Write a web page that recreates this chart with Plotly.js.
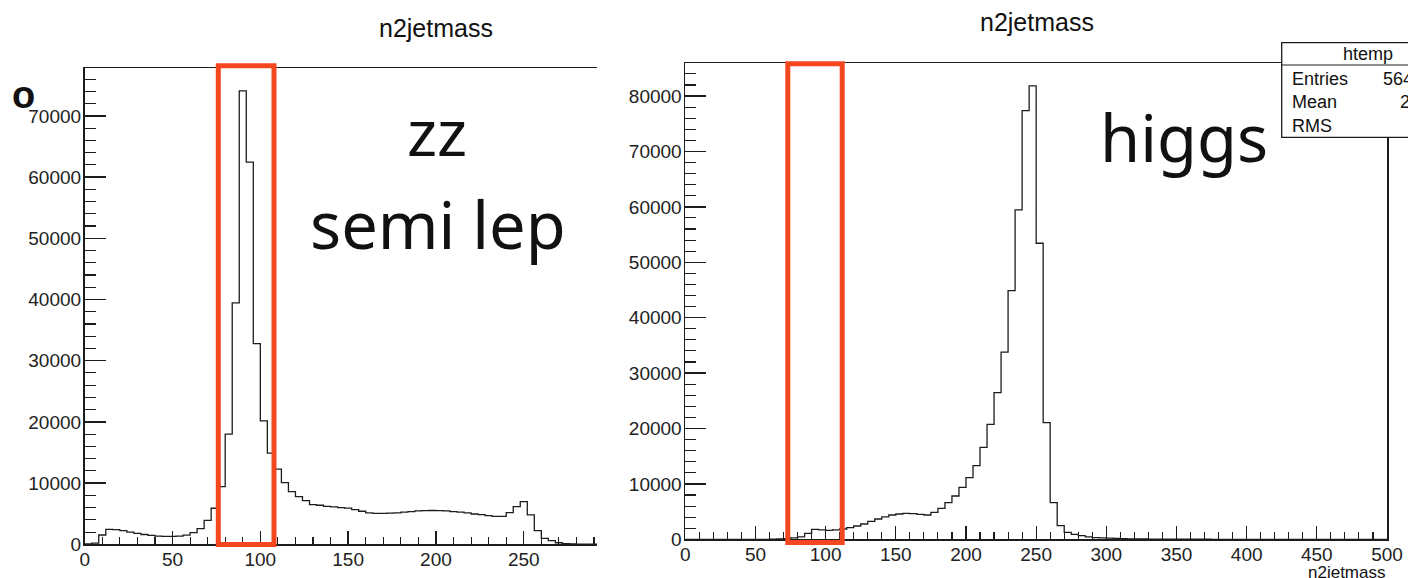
<!DOCTYPE html>
<html>
<head>
<meta charset="utf-8">
<script src="https://cdn.plot.ly/plotly-3.0.1.min.js"></script>
<style>
html,body{margin:0;padding:0;background:#fff;}
#chart{width:1408px;height:578px;}
</style>
</head>
<body>
<div id="chart"></div>
<script>
// ---------------- data ----------------
// Left panel: ZZ semi-leptonic, n2jetmass, bins of width 4 starting at 0
const zzBinLow = 0;
const zzBinWidth = 4;
const zzCounts = [
  60, 200, 1520, 2450, 2400, 2250, 2000, 1800, 1600, 1450,
  1350, 1300, 1300, 1350, 1500, 1900, 2550, 3900, 5890, 9430,
  18010, 39450, 74070, 62450, 32790, 20180, 14900, 12280, 10090, 8610,
  7790, 7140, 6480, 6380, 6200, 6100, 6000, 5900, 5650, 5400,
  5150, 5050, 5050, 5100, 5150, 5250, 5350, 5450, 5500, 5520,
  5500, 5450, 5350, 5250, 5150, 4950, 4850, 4700, 4550, 4550,
  5170, 6160, 6970, 4800, 2230, 980, 590, 250, 120, 60,
  30, 15, 10
];
// Right panel: higgs, n2jetmass, bins of width 5 from 0 to 500
const higgsBinLow = 0;
const higgsBinWidth = 5;
const higgsCounts = [
  0, 0, 0, 0, 0, 0, 0, 0, 0, 0,
  0, 0, 20, 50, 120, 250, 450, 1080, 1800, 1700,
  1620, 1700, 1860, 2100, 2400, 2760, 3250, 3660, 4030, 4390,
  4570, 4690, 4630, 4510, 4390, 4870, 5590, 6610, 7815, 9380,
  11120, 13290, 16600, 20750, 26460, 33800, 44870, 59440, 77360, 81820,
  53430, 21050, 6610, 2460, 1260, 900, 650, 450, 320, 250,
  200, 150, 110, 90, 70, 50, 35, 30, 20, 15,
  12, 10, 8, 6, 5, 4, 3, 2, 2, 1,
  1, 1, 0, 0, 0, 0, 0, 0, 0, 0,
  0, 0, 0, 0, 0, 0, 0, 0, 0, 0
];
const xTickVals = [0, 50, 100, 150, 200, 250, 300, 350, 400, 450, 500];
const titleText = "n2jetmass";
const statsTitle = "htemp";
const statsLabels = ["Entries", "Mean", "RMS"];
const statsValues = ["564", "2", ""];
const notes = {zz: "zz", semi: "semi lep", higgs: "higgs", mark: "o"};

// ---------------- helpers ----------------
const W = 1408, H = 578;
const PX = p => p / W;
const PY = p => 1 - p / H;
const FONT = "Liberation Sans, Arial, Helvetica, sans-serif";
const NOTEFONT = "Noto Sans, Liberation Sans, sans-serif";
const INK = "#1c1c1c";

function stepTrace(lo, w, counts, xa, ya) {
  const x = [lo], y = [0];
  counts.forEach((c, i) => { x.push(lo + i * w); y.push(c); });
  const hi = lo + counts.length * w;
  x.push(hi); y.push(counts[counts.length - 1]);
  x.push(hi); y.push(0);
  return {type: "scatter", mode: "lines", x: x, y: y, xaxis: xa, yaxis: ya,
          line: {shape: "hv", color: INK, width: 1.3}, hoverinfo: "skip", showlegend: false};
}

function xAxis(domain, range, anchor) {
  return {domain: domain, range: range, anchor: anchor, showgrid: false, zeroline: false,
          showline: true, linecolor: INK, linewidth: 1.8, mirror: true,
          ticks: "inside", ticklen: 13, tickwidth: 1.3, tickcolor: INK,
          tickvals: xTickVals, ticktext: xTickVals.map(String), ticklabelstandoff: -3,
          minor: {dtick: 10, tick0: 0, ticks: "inside", ticklen: 7, tickwidth: 1.1, tickcolor: INK},
          tickfont: {family: FONT, size: 19, color: "#222"}, fixedrange: true};
}
function yAxis(domain, range, anchor) {
  return {domain: domain, range: range, anchor: anchor, showgrid: false, zeroline: false,
          showline: true, linecolor: INK, linewidth: 1.8,
          ticks: "inside", ticklen: 21, tickwidth: 1.3, tickcolor: INK,
          dtick: 10000, tick0: 0, tickformat: "d", ticklabelstandoff: -2,
          minor: {dtick: 2000, tick0: 0, ticks: "inside", ticklen: 11, tickwidth: 1.1, tickcolor: INK},
          tickfont: {family: FONT, size: 19, color: "#222"}, fixedrange: true};
}

const traces = [
  stepTrace(zzBinLow, zzBinWidth, zzCounts, "x", "y"),
  stepTrace(higgsBinLow, higgsBinWidth, higgsCounts, "x2", "y2")
];

const zzMax = Math.max(...zzCounts) * 1.05;
const hgMax = Math.max(...higgsCounts) * 1.05;

const leftX = xAxis([PX(84.7), PX(597)], [0, 291.7], "y");
const leftY = yAxis([PY(544.3), PY(68.3)], [0, zzMax], "x");
const rightX = xAxis([PX(685.3), PX(1387)], [0, 500], "y2");
const rightY = yAxis([PY(539.3), PY(63.3)], [0, hgMax], "x2");
rightY.mirror = true;

const RED = "#F4461F";
const shapes = [
  {type: "rect", xref: "paper", yref: "paper", x0: PX(218.3), x1: PX(274), y0: PY(544.5), y1: PY(65.8),
   line: {color: RED, width: 5}, fillcolor: "rgba(0,0,0,0)", layer: "above"},
  {type: "rect", xref: "paper", yref: "paper", x0: PX(787.8), x1: PX(842.2), y0: PY(542.5), y1: PY(63.7),
   line: {color: RED, width: 5}, fillcolor: "rgba(0,0,0,0)", layer: "above"},
  {type: "rect", xref: "paper", yref: "paper", x0: PX(1281.7), x1: PX(1455), y0: PY(137.3), y1: PY(42.7),
   line: {color: INK, width: 1.3}, fillcolor: "#ffffff", layer: "above"},
  {type: "line", xref: "paper", yref: "paper", x0: PX(1281.7), x1: PX(1455), y0: PY(65), y1: PY(65),
   line: {color: INK, width: 1.2}, layer: "above"}
];

function ann(text, x, y, size, opts, fam) {
  return Object.assign({text: text, xref: "paper", yref: "paper", x: PX(x), y: PY(y),
    showarrow: false, xanchor: "center", yanchor: "middle",
    font: {family: fam || FONT, size: size, color: "#111"}}, opts || {});
}

const annotations = [
  ann(titleText, 436, 28, 25),
  ann(titleText, 1037, 22, 25),
  ann(notes.zz, 437, 131, 64, {}, NOTEFONT),
  ann(notes.semi, 438, 224, 65, {}, NOTEFONT),
  ann(notes.higgs, 1184, 137, 65, {}, NOTEFONT),
  ann("<b>" + notes.mark + "</b>", 23, 95, 38),
  ann(titleText, 1387, 561, 17, {xanchor: "right", yanchor: "top"}),
  ann(statsTitle, 1368, 54, 18),
  ann(statsLabels[0], 1290, 79, 18, {xanchor: "left"}),
  ann(statsLabels[1], 1290, 102, 18, {xanchor: "left"}),
  ann(statsLabels[2], 1290, 126, 18, {xanchor: "left"}),
  ann(statsValues[0], 1380.7, 79, 18, {xanchor: "left"}),
  ann(statsValues[1], 1398, 102, 18, {xanchor: "left"})
];

const layout = {
  width: W, height: H, margin: {l: 0, r: 0, t: 0, b: 0, pad: 0},
  paper_bgcolor: "#ffffff", plot_bgcolor: "#ffffff", showlegend: false,
  xaxis: leftX, yaxis: leftY, xaxis2: rightX, yaxis2: rightY,
  shapes: shapes, annotations: annotations,
  font: {family: FONT}
};

Plotly.newPlot("chart", traces, layout, {staticPlot: true, displayModeBar: false});
</script>
</body>
</html>
